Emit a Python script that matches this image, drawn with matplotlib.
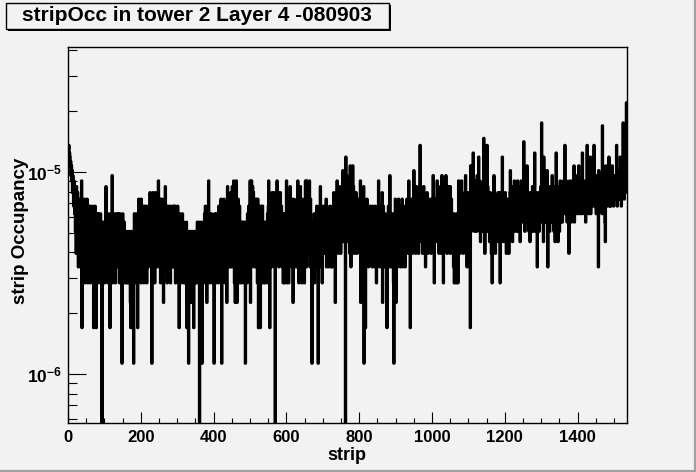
import numpy as np
import matplotlib
matplotlib.use('Agg')
import matplotlib.pyplot as plt
from matplotlib.patches import Rectangle
from matplotlib.lines import Line2D
from matplotlib.ticker import FixedLocator, MultipleLocator, LogLocator, NullFormatter, FixedFormatter

# hit counts per strip (32 strips per row)
count_rows = [
    [24,23,24,22,22,21,19,20,17,19,16,18,14,17,15,12,16,13,11,14,9,13,7,15,12,8,14,10,6,13,11,7],
    [12,9,6,13,8,16,3,11,7,12,6,10,8,13,5,11,7,12,9,6,13,8,5,11,7,12,6,9,12,5,10,7],
    [11,6,9,12,7,10,3,8,11,6,12,5,9,3,10,7,11,6,8,11,5,10,7,9,6,11,5,8,10,0,9,6],
    [8,10,6,9,5,10,7,9,15,6,10,7,9,5,11,8,6,10,7,3,9,11,6,10,8,17,5,11,7,9,6,10],
    [7,11,5,9,8,10,6,11,7,9,11,6,10,5,8,11,7,9,6,10,2,8,11,6,9,5,10,7,9,6,8,5],
    [7,9,5,8,6,9,7,5,8,6,9,4,3,7,9,6,8,5,9,7,2,8,11,6,10,7,9,5,11,8,6,3],
    [8,11,13,6,10,7,12,9,5,13,8,11,6,12,7,10,5,9,12,6,11,8,7,12,5,10,8,11,6,12,9,7],
    [10,14,7,12,8,13,2,11,6,14,9,12,7,13,5,10,14,8,11,6,13,9,12,7,16,10,6,12,8,13,5,11],
    [9,13,6,11,8,12,4,10,7,13,9,15,6,11,8,12,5,10,7,12,9,6,11,8,12,5,10,7,11,9,6,12],
    [8,11,6,12,9,7,12,5,10,8,11,6,9,12,7,10,5,3,9,11,6,8,10,5,9,7,11,6,8,10,5,9],
    [7,9,5,8,6,10,3,7,9,5,8,2,6,9,7,5,8,6,9,4,7,9,5,8,6,3,9,7,5,8,6,9],
    [5,8,6,10,7,9,5,10,8,0,6,9,7,10,5,8,2,9,6,10,7,5,9,11,8,12,6,10,7,4,11,8],
    [12,6,16,9,7,11,5,10,8,6,11,7,9,5,10,8,6,2,9,11,7,10,5,8,11,6,9,7,10,5,12,8],
    [7,12,9,6,13,10,2,8,12,6,11,9,13,7,10,5,12,8,6,11,4,9,15,7,12,10,6,13,8,11,6,14],
    [9,12,6,15,8,11,7,16,10,5,13,4,9,12,16,7,4,11,8,13,6,10,7,12,5,10,8,6,9,5,10,7],
    [8,10,6,9,5,10,7,2,9,6,10,8,5,11,7,9,12,6,10,8,16,4,13,9,16,7,12,15,8,14,6,11],
    [13,7,12,9,6,13,8,11,5,13,9,3,7,12,8,11,3,6,10,12,7,5,12,8,6,9,5,10,7,9,5,8],
    [10,6,9,7,11,5,12,16,8,11,3,13,7,12,9,6,14,8,12,10,7,14,9,6,13,0,10,12,7,14,16,9],
    [12,8,14,6,11,9,13,14,7,10,12,8,6,11,9,5,11,7,10,5,9,6,11,8,16,5,12,9,7,13,5,11],
    [8,12,15,7,11,9,13,6,10,8,4,12,13,7,11,9,6,12,8,10,6,13,9,16,7,11,5,12,9,6,15,10],
    [7,12,5,13,9,6,11,8,12,5,9,7,16,10,13,6,16,9,12,7,15,8,11,16,10,6,13,9,7,10,2,8],
    [6,10,8,7,11,5,9,7,10,6,8,12,9,6,11,2,8,10,6,12,9,15,7,10,11,6,5,9,12,7,10,8],
    [11,7,9,12,8,13,6,10,9,7,11,8,6,10,8,12,9,7,11,6,10,6,8,12,9,7,14,10,8,13,4,9],
    [11,8,13,16,9,12,7,10,14,8,11,9,15,7,12,10,8,13,9,18,11,8,14,10,12,9,0,21,10,13,17,9],
    [12,8,14,10,9,13,7,19,11,6,14,9,12,8,19,10,15,11,7,13,9,12,8,14,10,7,11,9,13,8,10,12],
    [9,11,7,16,4,10,12,8,13,9,7,11,15,2,10,8,12,3,9,11,7,13,10,8,12,6,9,11,7,12,8,10],
    [7,11,9,6,12,8,10,7,11,9,6,12,8,10,7,5,11,9,7,12,10,16,8,11,6,12,9,7,11,8,10,14],
    [4,9,12,7,10,8,6,11,10,7,9,6,3,8,10,7,12,9,6,11,17,8,10,6,9,7,11,8,6,10,5,2],
    [8,11,7,13,9,4,10,12,8,6,11,9,13,7,12,10,8,6,12,9,7,11,13,6,10,8,12,7,9,11,6,10],
    [8,12,7,13,10,9,11,8,16,10,7,12,3,9,11,8,13,10,7,12,9,11,18,10,8,13,9,7,12,15,10,8],
    [12,9,11,7,13,10,8,24,12,9,11,8,13,10,7,12,9,15,11,8,12,9,6,10,13,8,14,11,7,12,9,10],
    [13,8,11,9,12,7,10,13,9,11,8,17,10,12,5,9,13,11,8,12,10,9,16,11,8,13,10,7,12,11,9,15],
    [9,13,7,17,10,12,8,5,14,11,9,16,12,8,17,10,13,7,11,14,9,12,15,8,11,7,15,10,9,13,8,11],
    [9,7,10,6,11,5,8,10,6,9,5,11,7,10,8,5,9,16,8,12,10,7,14,9,12,16,8,11,9,13,7,10],
    [12,8,14,9,17,11,8,13,6,10,12,9,14,10,8,13,11,3,19,12,9,15,19,11,13,22,10,14,12,9,16,13],
    [11,15,9,13,17,10,14,12,21,11,16,9,13,8,12,15,10,14,9,12,16,11,26,13,10,7,15,11,13,9,12,24],
    [12,15,9,13,10,11,8,12,14,9,10,7,11,5,12,9,10,13,17,8,11,9,7,12,10,8,13,11,9,14,10,8],
    [12,9,14,5,10,13,8,11,12,21,9,13,10,8,12,11,9,14,10,12,7,11,9,13,8,10,12,7,11,9,14,18],
    [10,13,9,15,11,8,14,10,12,9,16,11,13,10,15,12,9,14,11,16,10,13,9,12,15,11,8,14,10,16,12,11],
    [13,10,15,11,25,12,14,9,13,11,16,10,12,19,11,14,10,13,9,12,11,8,14,10,13,9,12,11,15,10,13,9],
    [12,15,22,10,13,11,14,9,12,6,11,13,10,14,9,12,11,13,10,15,12,31,11,14,10,13,8,21,12,10,15,11],
    [13,10,15,12,18,11,6,14,10,13,12,9,15,11,13,10,14,12,17,11,10,13,11,9,14,12,8,15,11,22,13,10],
    [12,15,8,13,11,14,9,12,16,10,13,11,15,12,10,14,12,16,11,13,15,24,12,14,11,16,13,10,15,12,14,11],
    [7,13,16,11,14,12,15,10,13,16,12,14,11,15,19,10,14,12,16,11,13,15,12,17,11,14,13,19,12,15,11,14],
    [13,16,12,15,11,22,14,12,16,13,15,11,14,12,10,16,13,15,24,12,14,16,11,15,13,17,12,21,11,14,16,13],
    [15,12,17,13,16,24,14,12,15,13,17,11,14,16,12,15,13,6,18,12,14,16,13,15,12,17,14,11,30,13,16,12],
    [15,13,17,10,8,19,14,16,13,15,12,17,14,13,21,15,12,16,14,12,17,13,15,19,13,16,14,12,17,15,13,16],
    [14,17,13,24,15,12,16,14,18,13,15,17,14,21,15,13,12,16,14,18,15,31,14,17,13,16,15,14,18,22,39,30],
]
hit_occ = 5.65e-7   # occupancy of a single hit

title = 'stripOcc in tower 2 Layer 4 -080903'
x_label = 'strip'
y_label = 'strip Occupancy'
x_ticks = [0, 200, 400, 600, 800, 1000, 1200, 1400]
y_ticks = [1e-6, 1e-5]
y_tick_labels = [r'$\mathbf{10^{-6}}$', r'$\mathbf{10^{-5}}$']

bad = [i for i, r in enumerate(count_rows) if len(r) != 32]
assert not bad, bad

counts = np.concatenate([np.array(r, dtype=float) for r in count_rows])
strips = np.arange(len(counts))
occ = counts * hit_occ

plt.rcParams['font.family'] = 'Liberation Sans'
plt.rcParams['font.weight'] = 'bold'
plt.rcParams['mathtext.fontset'] = 'custom'
plt.rcParams['mathtext.rm'] = 'Liberation Sans:bold'
plt.rcParams['mathtext.bf'] = 'Liberation Sans:bold'

W, H = 696, 472
bg = '#f2f2f2'
fig = plt.figure(figsize=(W / 100, H / 100), dpi=100, facecolor=bg)
ax = fig.add_axes([68 / W, 1 - 423 / H, (627 - 68) / W, (423 - 47) / H])
ax.set_facecolor(bg)

ax.plot(strips + 0.5, occ, drawstyle='steps-mid', color='black', lw=2.2)

ax.set_yscale('log')
ax.set_xlim(0, 1536)
ax.set_ylim(5.72e-7, 4.16e-5)

ax.xaxis.set_major_locator(FixedLocator(x_ticks))
ax.xaxis.set_minor_locator(MultipleLocator(50))
ax.yaxis.set_major_locator(FixedLocator(y_ticks))
ax.yaxis.set_major_formatter(FixedFormatter(y_tick_labels))
ax.yaxis.set_minor_locator(LogLocator(base=10, subs=np.arange(2, 10)))
ax.yaxis.set_minor_formatter(NullFormatter())

ax.tick_params(axis='both', which='both', direction='in', top=False, right=False, width=0.8, colors='black')
ax.tick_params(axis='x', which='major', length=8, pad=5, labelsize=12)
ax.tick_params(axis='x', which='minor', length=3.8)
ax.tick_params(axis='y', which='major', length=13, pad=4.5, labelsize=12.5)
ax.tick_params(axis='y', which='minor', length=6.5)
for s in ax.spines.values():
    s.set_linewidth(1.0)

fig.text(347 / W, 1 - 456 / H, x_label, ha='center', va='center', fontsize=13, fontweight='bold')
fig.text(21 / W, 1 - 231 / H, y_label, ha='center', va='center', rotation=90, fontsize=13.5, fontweight='bold')

# title box with ROOT-style shadow
fig.add_artist(Rectangle((8 / W, 1 - 30.5 / H), 383 / W, 25.5 / H, transform=fig.transFigure,
                         facecolor='black', edgecolor='none'))
fig.add_artist(Rectangle((6 / W, 1 - 28.5 / H), 383 / W, 25.5 / H, transform=fig.transFigure,
                         facecolor=bg, edgecolor='black', lw=1.0))
fig.text(197 / W, 1 - 15.5 / H, title, ha='center', va='center', fontsize=15, fontweight='bold')

# canvas border
fig.add_artist(Line2D([0, 1], [1 / H, 1 / H], transform=fig.transFigure, color='#a0a0a0', lw=1.6))
fig.add_artist(Line2D([1 - 1 / W, 1 - 1 / W], [0, 1], transform=fig.transFigure, color='#a0a0a0', lw=1.6))

fig.savefig('out.png', dpi=100, facecolor=bg)
